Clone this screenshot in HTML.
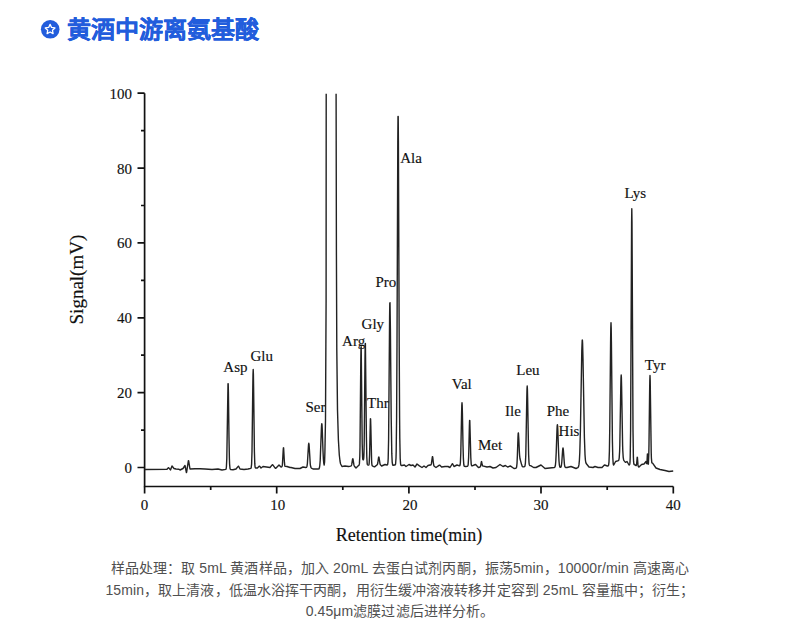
<!DOCTYPE html>
<html lang="zh-CN"><head><meta charset="utf-8">
<style>
html,body{margin:0;padding:0;background:#fff;width:800px;height:633px;overflow:hidden;position:relative}
.title{position:absolute;left:67px;top:15px;-webkit-text-stroke:0.25px #225ddc;font-family:"Liberation Sans",sans-serif;font-size:24px;line-height:30px;font-weight:bold;color:#225ddc;white-space:nowrap}
.cap{position:absolute;left:0;width:800px;text-align:center;font-family:"Liberation Sans",sans-serif;font-size:14px;color:#505050;letter-spacing:0.1px;white-space:nowrap}
svg{position:absolute;left:0;top:0}
</style></head><body>
<svg width="800" height="633" viewBox="0 0 800 633">
<circle cx="50.2" cy="29.3" r="9.3" fill="#225ddc"/>
<path d="M50.10 24.40 L51.57 27.48 L54.95 27.92 L52.48 30.27 L53.10 33.63 L50.10 32.00 L47.10 33.63 L47.72 30.27 L45.25 27.92 L48.63 27.48 Z" fill="#225ddc" stroke="#fff" stroke-width="1.3" stroke-linejoin="round"/>
<g stroke="#111" stroke-width="1.7" fill="none">
<path d="M144.6 93.2 V486.5 H673.3"/>
<path d="M137.5 93.2 H144.6 M137.5 168.1 H144.6 M137.5 242.9 H144.6 M137.5 317.8 H144.6 M137.5 392.6 H144.6 M137.5 467.5 H144.6"/>
<path d="M141 130.6 H144.6 M141 205.5 H144.6 M141 280.4 H144.6 M141 355.2 H144.6 M141 430.1 H144.6"/>
<path d="M144.6 486.5 V493.5 M276.7 486.5 V493.5 M408.9 486.5 V493.5 M541 486.5 V493.5 M673.3 486.5 V493.5"/>
<path d="M210.7 486.5 V490 M342.8 486.5 V490 M475 486.5 V490 M607.2 486.5 V490"/>
</g>
<g font-family="Liberation Serif" font-size="15" fill="#111" stroke="#111" stroke-width="0.15" text-anchor="end">
<text x="132" y="98.6">100</text>
<text x="132" y="173.5">80</text>
<text x="132" y="248.3">60</text>
<text x="132" y="323">40</text>
<text x="132" y="398">20</text>
<text x="132" y="473">0</text>
</g>
<g font-family="Liberation Serif" font-size="15" fill="#111" stroke="#111" stroke-width="0.15" text-anchor="middle">
<text x="144.6" y="510.2">0</text>
<text x="277.7" y="510.2">10</text>
<text x="409.9" y="510.2">20</text>
<text x="541" y="510.2">30</text>
<text x="673.3" y="510.2">40</text>
</g>
<text x="409" y="541.2" font-family="Liberation Serif" font-size="18" fill="#111" stroke="#111" stroke-width="0.15" text-anchor="middle">Retention time(min)</text>
<text transform="translate(82.8,279.6) rotate(-90)" font-family="Liberation Serif" font-size="19" fill="#111" stroke="#111" stroke-width="0.15" text-anchor="middle">Signal(mV)</text>
<g font-family="Liberation Serif" font-size="15" fill="#111" stroke="#111" stroke-width="0.15">
<text x="223.3" y="371.9">Asp</text>
<text x="250.5" y="361">Glu</text>
<text x="305.5" y="412">Ser</text>
<text x="342.1" y="346.3">Arg</text>
<text x="361.6" y="328.6">Gly</text>
<text x="367" y="408.4">Thr</text>
<text x="375.4" y="287.1">Pro</text>
<text x="400.2" y="162.8">Ala</text>
<text x="451.8" y="389">Val</text>
<text x="478" y="450">Met</text>
<text x="505.1" y="415.8">Ile</text>
<text x="516.3" y="375.4">Leu</text>
<text x="546.7" y="415.8">Phe</text>
<text x="558.6" y="436.1">His</text>
<text x="624.5" y="198">Lys</text>
<text x="644.8" y="369.8">Tyr</text>
</g>
<path d="M144.6 469.5 L167.0 469.3 L168.4 467.6 L168.6 467.6 L170.4 469.9 L170.6 469.7 L172.0 466.0 L174.0 468.5 L176.0 469.0 L179.0 469.2 L180.0 470.0 L183.0 468.5 L185.0 465.5 L186.4 472.5 L186.6 472.4 L188.4 460.6 L188.6 460.6 L190.0 469.0 L195.0 468.8 L200.0 468.8 L205.0 469.0 L212.0 469.5 L218.0 469.0 L222.0 470.0 L225.8 469.4 L226.2 468.5 L226.4 467.0 L226.8 458.6 L228.0 383.8 L228.2 383.8 L228.4 391.8 L229.0 437.5 L229.4 458.6 L229.6 464.1 L230.0 468.5 L230.2 469.1 L230.6 469.5 L233.0 469.8 L236.0 469.0 L238.4 466.1 L238.6 466.2 L240.0 469.0 L244.0 469.5 L248.0 469.0 L250.8 468.4 L251.2 467.7 L251.6 464.2 L252.0 451.6 L252.8 387.2 L253.0 374.3 L253.2 369.5 L253.4 374.2 L253.6 387.1 L254.4 451.4 L254.8 463.9 L255.0 466.3 L255.2 467.4 L255.4 467.8 L255.8 468.0 L257.4 468.0 L259.4 466.1 L259.6 466.1 L261.0 468.0 L263.0 466.5 L270.0 467.5 L272.4 464.6 L272.6 464.6 L275.4 468.4 L275.6 468.4 L279.0 465.0 L281.0 467.0 L281.8 466.8 L282.2 466.0 L282.4 464.7 L283.2 450.4 L283.4 447.9 L283.6 447.8 L284.4 462.2 L284.8 465.7 L285.0 466.2 L285.2 466.4 L287.0 466.5 L290.0 467.5 L291.0 467.5 L295.0 468.5 L300.0 468.5 L303.0 467.0 L305.8 467.5 L306.4 467.4 L306.8 466.8 L307.0 466.1 L307.4 463.3 L308.4 446.5 L308.6 444.1 L308.8 443.3 L309.0 444.1 L309.2 446.5 L310.2 463.3 L310.4 465.1 L310.8 467.1 L311.0 467.6 L311.4 468.1 L313.0 469.0 L318.2 469.0 L319.0 468.9 L319.4 467.8 L319.8 465.5 L320.2 460.6 L321.4 428.5 L321.6 424.9 L321.8 423.6 L322.0 424.7 L322.2 428.2 L323.0 451.1 L323.4 459.3 L323.8 463.4 L324.2 465.0 L324.6 462.0 L324.9 452.0 L325.5 420.0 L326.1 300.0 L326.2 93.7 M336.1 93.7 L336.4 250.0 L336.8 350.0 L337.5 410.0 L338.4 440.0 L339.3 455.0 L340.0 461.0 L340.6 464.0 L342.0 466.5 L345.0 466.0 L348.6 466.5 L350.6 466.1 L351.2 465.8 L351.6 465.0 L351.8 464.2 L352.4 460.2 L352.6 459.1 L352.8 458.7 L353.0 459.1 L353.8 464.2 L354.2 465.7 L354.6 466.5 L356.0 468.0 L358.0 466.0 L359.0 465.2 L359.4 463.9 L359.8 456.3 L360.0 446.8 L360.8 361.2 L361.0 347.1 L361.2 346.8 L362.2 443.7 L362.6 457.2 L362.8 459.2 L363.0 459.8 L363.4 459.8 L363.6 459.1 L363.8 457.1 L364.0 452.4 L364.2 443.2 L365.0 357.5 L365.2 343.7 L365.4 343.5 L366.4 436.8 L366.8 457.1 L367.2 463.6 L367.4 464.5 L367.6 464.8 L368.6 465.1 L368.8 464.9 L369.0 464.4 L369.2 463.0 L369.6 454.4 L370.4 418.8 L370.6 418.9 L370.8 425.2 L371.6 460.5 L371.8 463.6 L372.0 465.1 L372.2 465.7 L372.8 466.1 L374.4 466.9 L374.6 466.9 L377.2 464.8 L377.6 463.9 L377.8 463.0 L378.4 458.6 L378.6 457.4 L378.8 457.0 L379.0 457.4 L380.0 463.9 L380.4 464.8 L381.4 465.9 L381.6 466.0 L385.0 464.5 L387.0 465.0 L387.4 464.9 L387.6 464.6 L388.0 462.0 L388.2 458.2 L388.6 439.5 L389.6 316.9 L389.8 303.3 L390.0 302.7 L390.4 329.0 L391.2 418.0 L391.8 453.9 L392.2 462.1 L392.6 464.7 L393.0 465.4 L394.0 465.0 L395.0 465.0 L395.4 464.6 L395.6 463.8 L396.0 458.2 L396.2 450.9 L396.6 417.5 L397.0 345.1 L397.8 140.3 L398.0 116.4 L398.2 116.4 L398.4 140.4 L399.2 345.3 L399.6 417.8 L399.8 438.4 L400.2 458.5 L400.6 464.1 L401.0 465.3 L401.4 465.5 L402.0 465.5 L404.4 465.0 L406.0 466.5 L409.0 464.5 L411.0 465.5 L413.0 465.0 L415.0 467.0 L417.0 464.0 L419.4 465.9 L422.0 467.5 L424.0 466.0 L426.0 467.5 L428.0 465.5 L430.0 465.0 L430.6 465.1 L431.0 464.9 L431.4 463.7 L432.4 456.6 L432.6 456.7 L432.8 457.7 L433.4 463.1 L433.8 465.4 L434.2 466.2 L436.0 467.5 L439.4 465.1 L439.6 465.1 L441.6 467.0 L445.0 466.5 L448.0 466.5 L450.0 467.5 L452.4 463.7 L452.6 463.7 L454.0 466.5 L457.0 465.0 L459.4 465.9 L459.8 465.7 L460.2 464.2 L460.4 462.2 L460.8 453.0 L461.6 412.9 L461.8 405.4 L462.0 402.7 L462.2 405.4 L462.4 413.0 L463.0 445.1 L463.4 458.9 L463.8 464.5 L464.0 465.6 L464.4 466.3 L465.6 466.5 L467.6 466.2 L468.0 465.5 L468.2 464.3 L468.6 457.6 L468.8 451.2 L469.4 425.3 L469.6 420.4 L469.8 420.4 L470.8 457.5 L471.2 464.0 L471.4 465.2 L471.8 465.9 L472.2 465.9 L475.4 464.5 L475.6 464.6 L478.4 467.4 L478.6 467.5 L480.0 467.0 L480.4 466.6 L480.6 466.1 L481.4 461.7 L481.6 461.6 L482.2 464.8 L482.6 465.9 L487.0 467.0 L490.0 466.5 L493.0 468.0 L496.0 467.5 L500.0 464.5 L503.0 466.5 L505.4 465.5 L507.6 467.0 L510.4 466.0 L510.6 466.1 L514.0 468.5 L515.8 468.2 L516.2 468.0 L516.6 467.1 L517.0 463.7 L517.4 455.1 L518.0 436.7 L518.2 433.3 L518.4 432.9 L518.8 438.7 L519.4 452.2 L519.6 455.3 L520.0 458.8 L521.6 464.6 L522.2 466.2 L522.6 466.7 L523.0 466.9 L523.8 466.8 L524.6 466.6 L525.0 465.9 L525.4 463.2 L525.8 454.8 L526.8 397.8 L527.0 389.1 L527.2 386.0 L527.4 389.1 L527.6 397.6 L528.6 454.3 L529.0 462.5 L529.2 464.2 L529.6 465.4 L529.8 465.5 L530.6 465.6 L533.6 467.5 L536.0 467.5 L541.0 465.0 L545.0 468.5 L554.2 467.5 L554.8 467.2 L555.2 466.3 L555.4 465.2 L555.8 461.0 L556.2 452.6 L557.0 429.4 L557.2 425.9 L557.4 424.7 L557.6 425.9 L557.8 429.4 L558.6 452.6 L559.0 461.0 L559.4 465.2 L559.8 466.9 L560.2 467.3 L560.6 467.4 L560.8 467.2 L561.2 466.4 L561.4 465.5 L561.8 462.1 L562.6 450.6 L562.8 448.7 L563.0 448.0 L563.2 448.7 L563.4 450.6 L564.4 464.1 L564.8 466.4 L565.2 467.2 L565.8 467.5 L567.0 467.5 L571.0 466.5 L576.0 468.5 L577.8 467.7 L578.2 467.3 L578.6 466.4 L579.0 464.4 L579.4 460.3 L579.8 452.5 L580.4 430.7 L581.8 350.4 L582.2 340.2 L582.4 340.1 L582.6 343.4 L583.0 359.1 L584.4 437.6 L585.0 454.6 L585.4 460.0 L585.8 462.5 L586.2 463.5 L589.0 467.0 L593.0 467.5 L595.0 466.5 L598.0 467.5 L602.0 467.5 L604.4 465.1 L604.6 465.0 L607.4 466.0 L608.2 465.8 L608.6 465.1 L609.0 461.8 L609.4 451.1 L609.8 426.0 L610.6 341.7 L610.8 327.7 L611.0 322.7 L611.2 327.7 L611.4 341.6 L612.4 440.5 L612.8 457.5 L613.2 463.6 L613.4 464.7 L613.6 464.9 L614.0 464.5 L615.6 461.5 L618.4 460.7 L618.8 460.1 L619.2 458.1 L619.6 451.7 L619.8 445.5 L620.8 386.4 L621.0 378.0 L621.2 375.0 L621.4 377.9 L621.6 386.2 L622.6 444.7 L622.8 450.8 L623.2 457.3 L623.6 459.7 L624.0 460.6 L624.6 461.4 L625.4 462.4 L625.6 462.4 L627.0 461.5 L629.0 465.0 L629.4 464.9 L629.6 464.6 L629.8 463.9 L630.0 462.1 L630.2 457.6 L630.6 430.2 L631.6 222.6 L631.8 208.7 L632.0 222.5 L633.0 430.0 L633.4 457.2 L633.6 461.7 L633.8 463.5 L634.0 464.2 L634.4 464.7 L636.0 465.5 L636.2 465.5 L636.4 465.2 L636.6 464.2 L637.2 457.3 L637.4 457.4 L638.0 464.9 L638.2 466.1 L638.6 466.8 L639.0 467.0 L641.6 464.5 L644.0 464.0 L646.0 461.5 L646.6 463.5 L646.8 463.5 L647.0 462.0 L647.4 454.0 L647.6 454.2 L648.0 462.7 L648.2 464.4 L648.4 463.7 L648.8 454.1 L649.0 443.7 L649.6 393.7 L649.8 380.5 L650.0 375.5 L650.2 380.2 L651.2 452.0 L651.4 458.1 L651.8 462.6 L652.0 463.1 L652.6 463.1 L656.0 468.0 L660.0 469.5 L665.0 470.5 L669.0 471.5 L673.2 471.0" stroke="#222" stroke-width="1.4" fill="none" stroke-linejoin="round"/>
</svg>
<div class="title">黄酒中游离氨基酸</div>
<div class="cap" style="top:557px">样品处理：取 5mL 黄酒样品，加入 20mL 去蛋白试剂丙酮，振荡5min，10000r/min 高速离心</div>
<div class="cap" style="top:578.5px">15min，取上清液，低温水浴挥干丙酮，用衍生缓冲溶液转移并定容到 25mL 容量瓶中；衍生；</div>
<div class="cap" style="top:600px">0.45μm滤膜过滤后进样分析。</div>
</body></html>
